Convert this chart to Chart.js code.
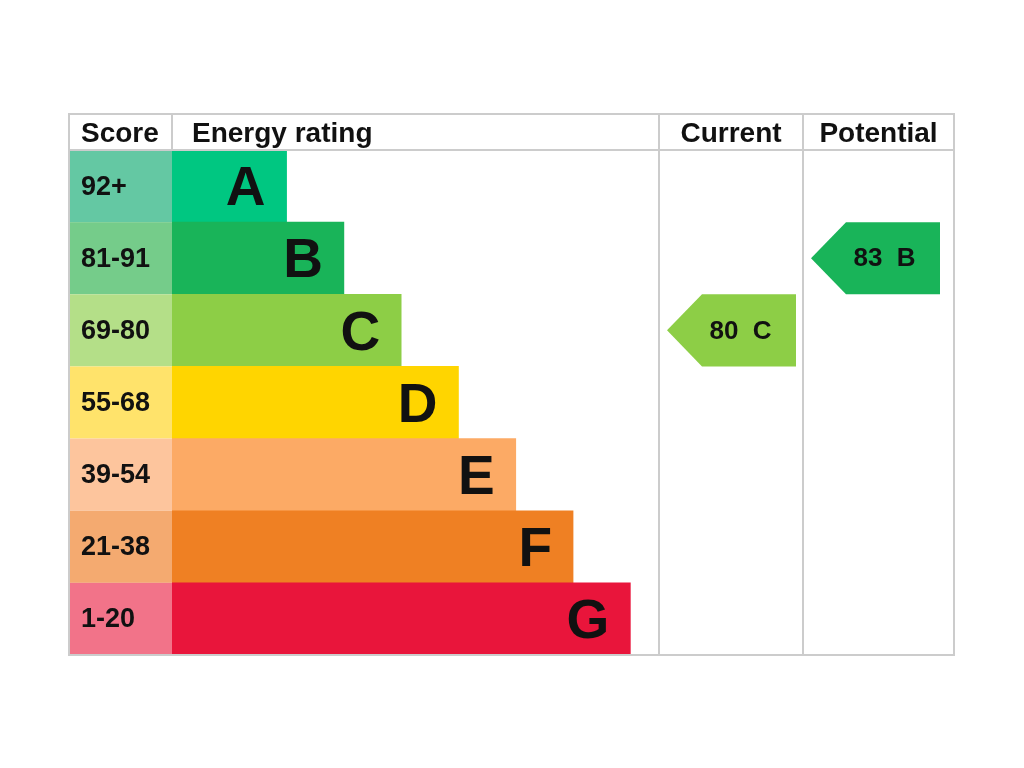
<!DOCTYPE html>
<html>
<head>
<meta charset="utf-8">
<script src="https://cdn.jsdelivr.net/npm/chart.js@4"></script>
<style>
  html, body { margin: 0; padding: 0; background: #fff; }
  #wrap { width: 1024px; height: 768px; }
</style>
</head>
<body>
<div id="wrap"><canvas id="epcChart" width="1024" height="768"></canvas></div>
<script>
// bands and their score ranges
const bands = ["A", "B", "C", "D", "E", "F", "G"];
const scoreRanges = ["92+", "81-91", "69-80", "55-68", "39-54", "21-38", "1-20"];
const bandMins = [92, 81, 69, 55, 39, 21, 1];
// bar lengths (relative units)
const barLengths = [2, 3, 4, 5, 6, 7, 8];
const barColours = ["#00c781", "#19b459", "#8dce46", "#ffd500", "#fcaa65", "#ef8023", "#e9153b"];
const cellColours = ["#64c8a3", "#75cc8a", "#b4df88", "#ffe36b", "#fdc59d", "#f4aa70", "#f27389"];
// ratings
const currentScore = 80;
const potentialScore = 83;

const FONT = "'Liberation Sans', Arial, sans-serif";
const TABLE_LEFT = 69;
const HEADER_H = 36;
const CURRENT_W = 144;
const POTENTIAL_W = 151;
const LINE = "#cccccc";

function bandIndex(score) {
    return bandMins.findIndex(m => score >= m);
}

const epcTable = {
    id: "epcTable",
    beforeDatasetsDraw(chart) {
        const ctx = chart.ctx;
        const area = chart.chartArea;
        const bars = chart.getDatasetMeta(0).data;
        ctx.save();
        // score cells
        bars.forEach((bar, i) => {
            const top = bar.y - bar.height / 2;
            ctx.fillStyle = cellColours[i];
            ctx.fillRect(TABLE_LEFT, top, area.left - TABLE_LEFT, bar.height);
            ctx.fillStyle = "#111";
            ctx.font = "bold 27px " + FONT;
            ctx.textAlign = "left";
            ctx.textBaseline = "middle";
            ctx.fillText(scoreRanges[i], TABLE_LEFT + 12, bar.y + 1);
        });
        ctx.restore();
    },
    afterDatasetsDraw(chart) {
        const ctx = chart.ctx;
        const area = chart.chartArea;
        const bars = chart.getDatasetMeta(0).data;
        const right = area.right + CURRENT_W + POTENTIAL_W;
        const headTop = area.top - HEADER_H;
        ctx.save();

        // band letters
        ctx.fillStyle = "#111";
        ctx.font = "bold 55px " + FONT;
        ctx.textAlign = "right";
        ctx.textBaseline = "middle";
        bars.forEach((bar, i) => {
            ctx.fillText(bands[i], bar.x - 21, bar.y + 4);
        });

        // arrows
        const drawArrow = (score, colLeft, colW, inset) => {
            const i = bandIndex(score);
            const bar = bars[i];
            const top = bar.y - bar.height / 2;
            const bottom = bar.y + bar.height / 2;
            const tip = colLeft + 8;
            const rectL = tip + 35;
            const r = colLeft + colW - inset;
            ctx.beginPath();
            ctx.moveTo(tip, bar.y);
            ctx.lineTo(rectL, top);
            ctx.lineTo(r, top);
            ctx.lineTo(r, bottom);
            ctx.lineTo(rectL, bottom);
            ctx.closePath();
            ctx.fillStyle = barColours[i];
            ctx.fill();
            ctx.fillStyle = "#111";
            ctx.font = "bold 26px " + FONT;
            ctx.textAlign = "center";
            ctx.textBaseline = "middle";
            ctx.fillText(score + "  " + bands[i], (tip + r) / 2 + 9, bar.y + 1);
        };
        drawArrow(currentScore, area.right, CURRENT_W, 7);
        drawArrow(potentialScore, area.right + CURRENT_W, POTENTIAL_W, 14);

        // grid lines
        ctx.strokeStyle = LINE;
        ctx.lineWidth = 2;
        ctx.strokeRect(TABLE_LEFT, headTop, right - TABLE_LEFT, area.bottom - headTop);
        ctx.beginPath();
        ctx.moveTo(TABLE_LEFT, area.top);
        ctx.lineTo(right, area.top);
        ctx.moveTo(area.left, headTop);
        ctx.lineTo(area.left, area.top);
        ctx.moveTo(area.right, headTop);
        ctx.lineTo(area.right, area.bottom);
        ctx.moveTo(area.right + CURRENT_W, headTop);
        ctx.lineTo(area.right + CURRENT_W, area.bottom);
        ctx.stroke();

        // headers
        ctx.fillStyle = "#111";
        ctx.font = "bold 28px " + FONT;
        ctx.textBaseline = "middle";
        const hy = headTop + HEADER_H / 2 + 2;
        ctx.textAlign = "left";
        ctx.fillText("Score", TABLE_LEFT + 12, hy);
        ctx.fillText("Energy rating", area.left + 20, hy);
        ctx.textAlign = "center";
        ctx.fillText("Current", area.right + CURRENT_W / 2, hy);
        ctx.fillText("Potential", area.right + CURRENT_W + POTENTIAL_W / 2, hy);
        ctx.restore();
    }
};

const ctx = document.getElementById("epcChart").getContext("2d");
new Chart(ctx, {
    type: "bar",
    data: {
        labels: bands,
        datasets: [{
            data: barLengths,
            backgroundColor: barColours,
            borderWidth: 0,
            barPercentage: 1,
            categoryPercentage: 1
        }]
    },
    options: {
        indexAxis: "y",
        responsive: false,
        animation: false,
        devicePixelRatio: 1,
        layout: { padding: { left: 172, right: 365, top: 150, bottom: 113 } },
        scales: {
            x: { display: false, min: 0, max: 8.5 },
            y: { display: false }
        },
        plugins: {
            legend: { display: false },
            tooltip: { enabled: false }
        }
    },
    plugins: [epcTable]
});
</script>
</body>
</html>
